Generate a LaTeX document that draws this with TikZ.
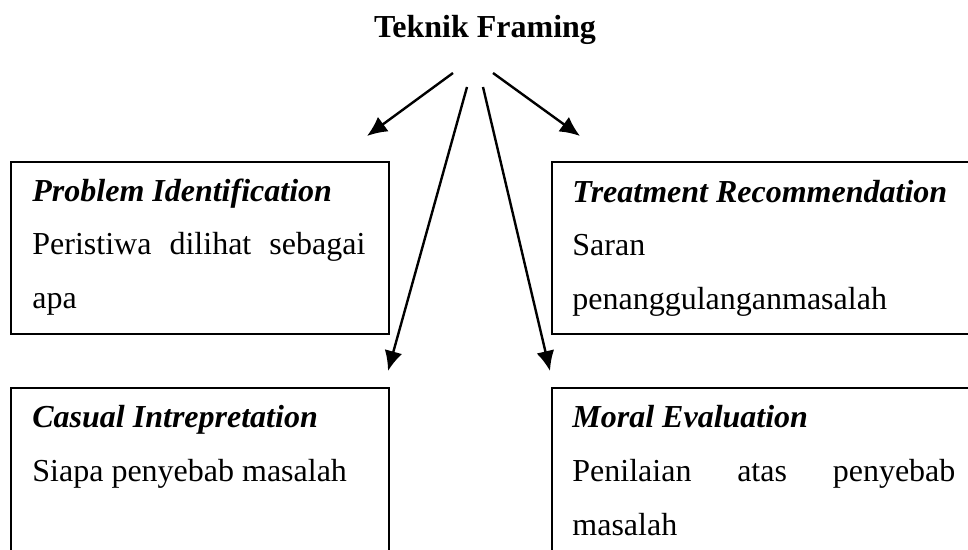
\documentclass[tikz,border=0pt]{standalone}
\usepackage{fontspec}
\setmainfont{Liberation Serif}
\usetikzlibrary{arrows.meta, positioning}

\begin{document}
\begin{tikzpicture}[
  x=0.5pt, y=-0.5pt,
  box/.style={draw=black, line width=1pt, anchor=north west, inner sep=0pt},
  txt/.style={anchor=base west, inner sep=0pt, font=\fontsize{16pt}{19pt}\selectfont},
  head/.style={txt, font=\fontsize{16pt}{19pt}\selectfont\bfseries\itshape},
  link/.style={-{Latex[length=10pt, width=9pt]}, line width=1.2pt, black}
]
\useasboundingbox (0,0) rectangle (968,550);
\clip (0,0) rectangle (968,550);

% Title
\node[anchor=base, inner sep=0pt, font=\fontsize{16pt}{19pt}\selectfont\bfseries] (title) at (485,38) {Teknik Framing};

% Boxes
\node[box, minimum width=189pt, minimum height=86pt] (pi) at (10,161) {};
\node[box, minimum width=225pt, minimum height=86pt] (tr) at (551,161) {};
\node[box, minimum width=189pt, minimum height=107pt] (ci) at (10,387) {};
\node[box, minimum width=225pt, minimum height=107pt] (me) at (551,387) {};

% Problem Identification
\node[head] (pi1) at (32,202) {Problem Identification};
\node[txt] (pi2) at (32,255) {\makebox[166.5pt][s]{Peristiwa dilihat sebagai}};
\node[txt] (pi3) at (32,309) {apa};

% Treatment Recommendation
\node[head] (tr1) at (572,203) {Treatment Recommendation};
\node[txt] (tr2) at (572,256) {Saran};
\node[txt] (tr3) at (572,310) {penanggulanganmasalah};

% Casual Intrepretation
\node[head] (ci1) at (32,427) {Casual Intrepretation};
\node[txt] (ci2) at (32,481) {Siapa penyebab masalah};

% Moral Evaluation
\node[head] (me1) at (572,427) {Moral Evaluation};
\node[txt] (me2) at (572,481) {\makebox[191.5pt][s]{Penilaian atas penyebab}};
\node[txt] (me3) at (572,535) {masalah};

% Arrow ends
\coordinate (piout) at (453,73);
\coordinate (piin) at (367,136);
\coordinate (trout) at (493,73);
\coordinate (trin) at (580,136);
\coordinate (ciout) at (467,87);
\coordinate (ciin) at (388,371);
\coordinate (meout) at (483,87);
\coordinate (mein) at (550,371);

% Connections
\draw[link] (piout) -- (piin);
\draw[link] (trout) -- (trin);
\draw[link] (ciout) -- (ciin);
\draw[link] (meout) -- (mein);

\end{tikzpicture}
\end{document}
